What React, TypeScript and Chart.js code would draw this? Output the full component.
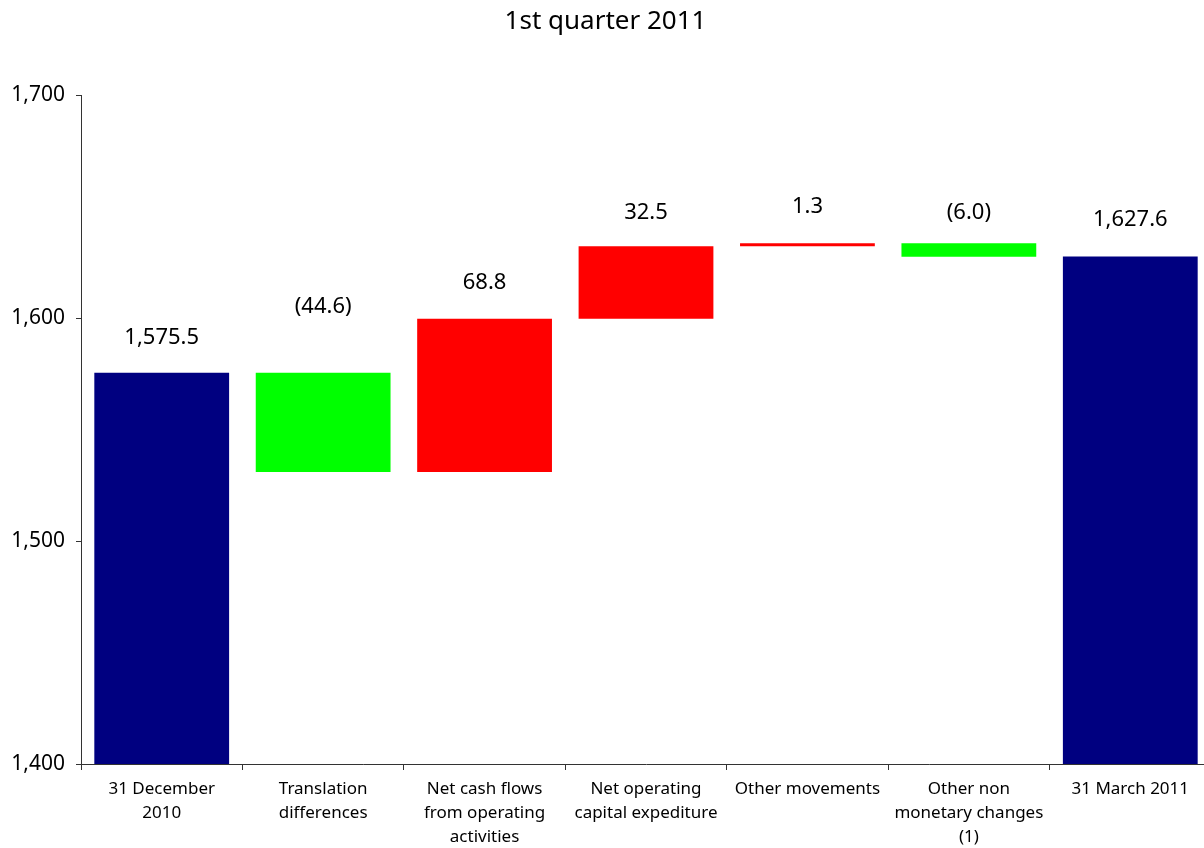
import React, { useEffect, useRef } from "react";
import { Chart, registerables } from "chart.js";

Chart.register(...registerables);

const categories: string[][] = [
  ["31 December", "2010"],
  ["Translation", "differences"],
  ["Net cash flows", "from operating", "activities"],
  ["Net operating", "capital expediture"],
  ["Other movements"],
  ["Other non", "monetary changes", "(1)"],
  ["31 March 2011"],
];
const barStarts = [1400, 1575.5, 1530.9, 1599.7, 1632.2, 1633.5, 1400];
const barEnds = [1575.5, 1530.9, 1599.7, 1632.2, 1633.5, 1627.5, 1627.6];
const valueLabels = ["1,575.5", "(44.6)", "68.8", "32.5", "1.3", "(6.0)", "1,627.6"];
const labelLevels = [1591, 1605, 1616, 1647, 1650, 1647, 1644];
const barKinds = ["total", "green", "red", "red", "red", "green", "total"];
const yTicks = [1400, 1500, 1600, 1700];

const FONT = "'Noto Sans', 'DejaVu Sans', sans-serif";
const kindColor: Record<string, string> = { total: "#000080", green: "#00FF00", red: "#FF0000" };

export default function App() {
  const ref = useRef<HTMLCanvasElement | null>(null);
  useEffect(() => {
    if (!ref.current) return;
    const labelPlugin = {
      id: "valueLabels",
      afterDatasetsDraw(chart: any) {
        const ctx = chart.ctx;
        const meta = chart.getDatasetMeta(0);
        const ys = chart.scales.y;
        ctx.save();
        ctx.font = `22px ${FONT}`;
        ctx.fillStyle = "#000";
        ctx.textAlign = "center";
        ctx.textBaseline = "middle";
        meta.data.forEach((bar: any, i: number) => {
          ctx.fillText(valueLabels[i], bar.x, ys.getPixelForValue(labelLevels[i]));
        });
        ctx.restore();
      },
    };
    const chart = new Chart(ref.current, {
      type: "bar",
      data: {
        labels: categories,
        datasets: [
          {
            data: barStarts.map((s, i) => [s, barEnds[i]]) as any,
            backgroundColor: barKinds.map((k) => kindColor[k]),
            borderWidth: 0,
            barPercentage: 0.835,
            categoryPercentage: 1,
          },
        ],
      },
      options: {
        responsive: false,
        animation: false,
        layout: { padding: { left: 0, right: 1, top: 0, bottom: 0 } },
        plugins: {
          legend: { display: false },
          tooltip: { enabled: false },
          title: {
            display: true,
            text: "1st quarter 2011",
            color: "#000",
            font: { family: FONT, size: 26, weight: "normal" as any, lineHeight: 1.2 },
            padding: { top: 6, bottom: 57.8 },
          },
        },
        scales: {
          x: {
            grid: { offset: true, drawOnChartArea: false, drawTicks: true, tickLength: 6, color: "#333" },
            border: { color: "#333" },
            ticks: {
              color: "#000",
              font: { family: FONT, size: 17, lineHeight: 1.42 },
              padding: 7,
              maxRotation: 0,
              autoSkip: false,
            },
            afterFit(scale: any) {
              scale.height = 84;
            },
          },
          y: {
            min: 1400,
            max: 1700,
            afterBuildTicks(scale: any) {
              scale.ticks = yTicks.map((v) => ({ value: v }));
            },
            grid: { drawOnChartArea: false, drawTicks: true, tickLength: 5, color: "#333" },
            border: { color: "#333" },
            ticks: {
              color: "#000",
              font: { family: FONT, size: 21 },
              padding: 11,
              callback: (v: any) => Number(v).toLocaleString("en-US"),
            },
            afterFit(scale: any) {
              scale.width = 81;
            },
          },
        },
      },
      plugins: [labelPlugin],
    });
    return () => chart.destroy();
  }, []);
  return (
    <div style={{ position: "fixed", left: 0, top: 0, width: 1204, height: 848, overflow: "hidden", background: "#fff" }}>
      <canvas ref={ref} width={1212} height={848} style={{ width: 1212, height: 848 }} />
    </div>
  );
}
